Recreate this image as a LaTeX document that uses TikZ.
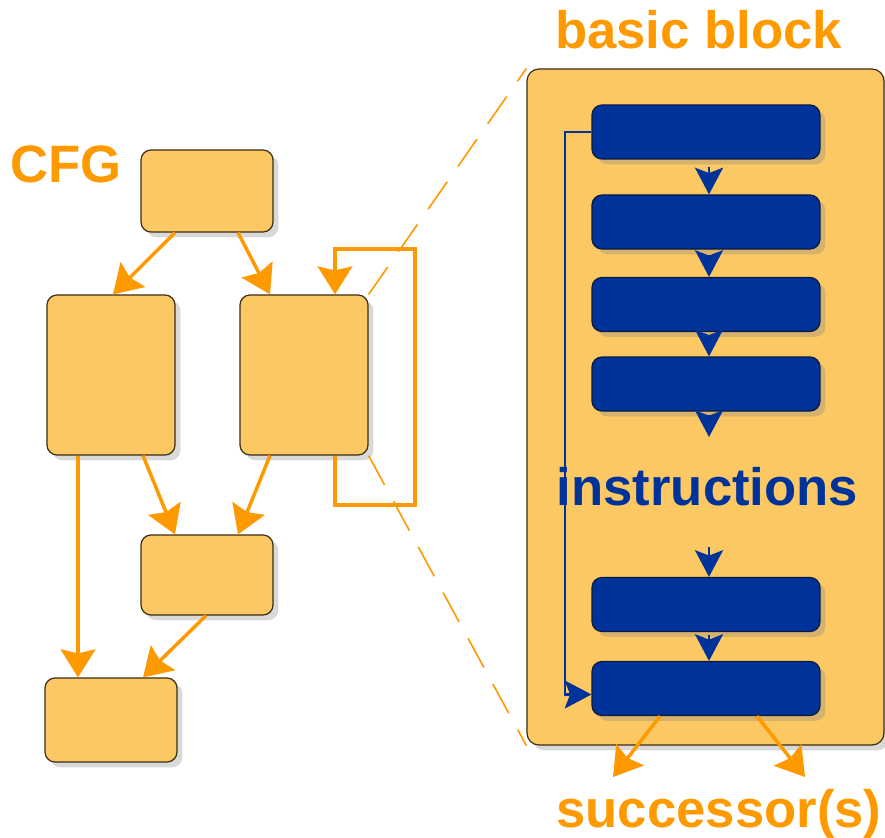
\documentclass[tikz,border=0pt]{standalone}
\usepackage{fontspec}
\setmainfont{Liberation Sans}
\usetikzlibrary{arrows.meta,shadows,calc}
\definecolor{org}{HTML}{FF9900}
\definecolor{boxfill}{HTML}{FCC864}
\definecolor{boxhi}{HTML}{FFF08C}
\definecolor{boxlo}{HTML}{C89A3C}
\definecolor{boxedge}{HTML}{3C2D14}
\definecolor{blu}{HTML}{003399}
\definecolor{bluhi}{HTML}{3A66B8}
\definecolor{blulo}{HTML}{001A55}
\definecolor{bluedge}{HTML}{0A1A40}
\pgfdeclareverticalshading{cfgbevel}{100bp}{color(0bp)=(boxlo); color(6bp)=(boxfill); color(92bp)=(boxfill); color(100bp)=(boxhi)}
\pgfdeclareverticalshading{bbbevel}{100bp}{color(0bp)=(boxlo); color(1.5bp)=(boxfill); color(98bp)=(boxfill); color(100bp)=(boxhi)}
\pgfdeclareverticalshading{insbevel}{100bp}{color(0bp)=(blulo); color(10bp)=(blu); color(88bp)=(blu); color(100bp)=(bluhi)}
\begin{document}
\begin{tikzpicture}[x=0.75pt,y=-0.75pt,
  cfgbox/.style={draw=boxedge, line width=0.9pt, shading=cfgbevel, rounded corners=7.5pt, inner sep=0pt,
    drop shadow={opacity=0.3, shadow xshift=4pt, shadow yshift=-4pt}},
  bbbox/.style={cfgbox, shading=bbbevel, rounded corners=9pt},
  insbox/.style={draw=bluedge, line width=0.9pt, shading=insbevel, rounded corners=7.5pt, inner sep=0pt,
    minimum width=171pt, minimum height=40.5pt,
    drop shadow={opacity=0.3, shadow xshift=4pt, shadow yshift=-4pt}},
  oarrow/.style={draw=org, line width=2.6pt, -{Stealth[length=21pt,width=26pt,inset=3pt]}},
  barrow/.style={draw=blu, line width=1.6pt, -{Stealth[length=20pt,width=21pt,inset=4pt]}},
  zoomline/.style={draw=org, line width=1.2pt, dash pattern=on 25pt off 14pt},
  lbl/.style={font=\bfseries\fontsize{39.5}{42}\selectfont, inner sep=0pt, anchor=base}
]
\useasboundingbox (0,0) rectangle (885,838);

% CFG nodes
\node[cfgbox, minimum width=99pt, minimum height=61.5pt] (t) at (207,191) {};
\node[cfgbox, minimum width=96pt, minimum height=120pt] (l) at (111,375) {};
\node[cfgbox, minimum width=96pt, minimum height=120pt] (r) at (304,375) {};
\node[cfgbox, minimum width=99pt, minimum height=60pt] (m) at (207,575) {};
\node[cfgbox, minimum width=99pt, minimum height=63pt] (b) at (111,720) {};

% basic block
\node[bbbox, minimum width=267.75pt, minimum height=507pt] (bb) at (705.5,407) {};

% zoom lines
\draw[zoomline] (r.north east) -- (bb.north west);
\draw[zoomline] (r.south east) -- (bb.south west);

% CFG edges
\draw[oarrow] ([xshift=-24pt]t.south) -- ([xshift=1.5pt]l.north);
\draw[oarrow] ([xshift=23.25pt]t.south) -- ([xshift=-25.5pt]r.north);
\draw[oarrow] ([xshift=-24.75pt]l.south) -- ([xshift=-24.75pt]b.north);
\draw[oarrow] ([xshift=24pt]l.south) -- ([xshift=-24pt]m.north);
\draw[oarrow] ([xshift=-25.5pt]r.south) -- ([xshift=23.25pt]m.north);
\draw[oarrow] ([xshift=-0.75pt]m.south) -- ([xshift=24pt]b.north);
\coordinate (lp1) at (415,505);
\coordinate (lp2) at (415,249);
\draw[oarrow] ([xshift=23.25pt]r.south) |- (lp1) -- (lp2) -| ([xshift=23.25pt]r.north);

% instructions
\node[insbox] (i1) at (706,132) {};
\node[insbox] (i2) at (706,222) {};
\node[insbox] (i3) at (706,304.5) {};
\node[insbox] (i4) at (706,384) {};
\node[insbox] (i5) at (706,604.5) {};
\node[insbox] (i6) at (706,688.5) {};

\draw[barrow] ([xshift=2.25pt]i1.south) ++(0,7) -- ([xshift=2.25pt]i2.north);
\draw[barrow] ([xshift=2.25pt]i2.south) ++(0,5) -- ([xshift=2.25pt]i3.north);
\draw[barrow] ([xshift=2.25pt]i3.south) ++(0,5) -- ([xshift=2.25pt]i4.north);
\coordinate (g1) at (709,437);
\coordinate (g2) at (709,547);
\draw[barrow] ([xshift=2.25pt]i4.south) ++(0,3) -- (g1);
\draw[barrow] (g2) -- ([xshift=2.25pt]i5.north);
\draw[barrow] ([xshift=2.25pt]i5.south) ++(0,3) -- ([xshift=2.25pt]i6.north);
\coordinate (lb) at (565,132);
\draw[barrow] (i1.west) -- (lb) |- ([yshift=-4.5pt]i6.west);

% successors
\coordinate (s1) at (613,777);
\coordinate (s2) at (805,777);
\draw[oarrow] ([xshift=-34.5pt]i6.south) -- (s1);
\draw[oarrow] ([xshift=38.25pt]i6.south) -- (s2);

% labels
\node[lbl, text=org] (cfg) at (66,183) {CFG};
\node[lbl, text=org] (bbl) at (698.5,49) {basic block};
\node[lbl, text=blu] (ins) at (707.5,505) {instructions};
\node[lbl, text=org] (suc) at (719,827) {successor(s)};
\end{tikzpicture}
\end{document}
